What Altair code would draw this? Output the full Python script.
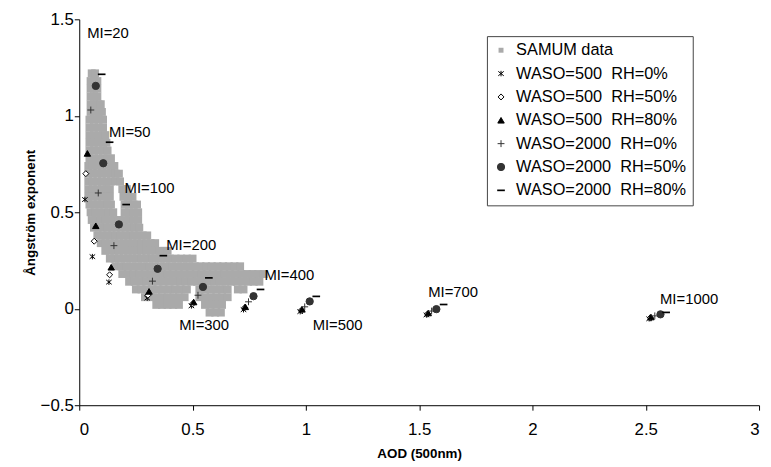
import altair as alt
import pandas as pd

# ---------------- data ----------------
# SAMUM observations (grey cloud), rows of equal Angstrom exponent with AOD values
samum_rows = [
    (1.22, [0.055, 0.07]),
    (1.18, [0.05, 0.065, 0.08]),
    (1.14, [0.05, 0.065, 0.08]),
    (1.10, [0.05, 0.065, 0.08]),
    (1.06, [0.05, 0.065, 0.085, 0.095]),
    (1.02, [0.05, 0.065, 0.085, 0.10]),
    (0.98, [0.045, 0.065, 0.085, 0.105]),
    (0.94, [0.045, 0.065, 0.085, 0.105]),
    (0.90, [0.045, 0.065, 0.085, 0.105, 0.115]),
    (0.86, [0.045, 0.065, 0.085, 0.105, 0.12]),
    (0.82, [0.045, 0.065, 0.085, 0.105, 0.125]),
    (0.78, [0.045, 0.065, 0.085, 0.105, 0.125, 0.14]),
    (0.74, [0.04, 0.06, 0.08, 0.10, 0.12, 0.14, 0.155]),
    (0.70, [0.04, 0.06, 0.08, 0.10, 0.12, 0.14, 0.16, 0.175]),
    (0.66, [0.04, 0.06, 0.08, 0.10, 0.12, 0.14, 0.16, 0.18]),
    (0.62, [0.04, 0.06, 0.08, 0.10, 0.12, 0.135, 0.19, 0.21]),
    (0.58, [0.04, 0.06, 0.08, 0.10, 0.12, 0.135, 0.195, 0.215, 0.235]),
    (0.54, [0.045, 0.065, 0.085, 0.105, 0.125, 0.14, 0.20, 0.22, 0.24, 0.255]),
    (0.50, [0.05, 0.07, 0.09, 0.11, 0.13, 0.15, 0.20, 0.22, 0.24, 0.26]),
    (0.46, [0.055, 0.075, 0.095, 0.115, 0.135, 0.155, 0.175, 0.20, 0.22, 0.24, 0.26]),
    (0.42, [0.065, 0.085, 0.105, 0.125, 0.145, 0.165, 0.185, 0.205, 0.225, 0.245, 0.265]),
    (0.38, [0.08, 0.10, 0.12, 0.14, 0.16, 0.18, 0.20, 0.22, 0.24, 0.26, 0.28, 0.30]),
    (0.34, [0.095, 0.115, 0.135, 0.155, 0.175, 0.195, 0.215, 0.235, 0.255, 0.275, 0.295,
            0.315, 0.335]),
    (0.30, [0.115, 0.135, 0.155, 0.175, 0.195, 0.215, 0.235, 0.255, 0.275, 0.295, 0.315,
            0.335, 0.355, 0.375, 0.39]),
    (0.26, [0.135, 0.155, 0.175, 0.20, 0.225, 0.25, 0.275, 0.30, 0.325, 0.35, 0.375, 0.40,
            0.425, 0.45, 0.475, 0.50]),
    (0.22, [0.16, 0.185, 0.21, 0.235, 0.26, 0.285, 0.31, 0.335, 0.36, 0.385, 0.41, 0.435,
            0.46, 0.485, 0.51, 0.535, 0.56, 0.585, 0.61, 0.635, 0.66, 0.685, 0.71]),
    (0.18, [0.19, 0.215, 0.24, 0.265, 0.29, 0.315, 0.34, 0.365, 0.39, 0.415, 0.44, 0.465,
            0.49, 0.515, 0.54, 0.565, 0.59, 0.615, 0.64, 0.665, 0.69, 0.715, 0.74, 0.765,
            0.79, 0.815]),
    (0.14, [0.22, 0.245, 0.27, 0.295, 0.32, 0.345, 0.37, 0.395, 0.42, 0.445, 0.47, 0.495,
            0.52, 0.545, 0.57, 0.595, 0.62, 0.645, 0.67, 0.695, 0.72, 0.745, 0.77, 0.795]),
    (0.10, [0.25, 0.275, 0.30, 0.325, 0.35, 0.375, 0.40, 0.425, 0.45, 0.475, 0.53, 0.555,
            0.58, 0.605, 0.63, 0.655, 0.70, 0.725]),
    (0.06, [0.29, 0.315, 0.34, 0.365, 0.39, 0.415, 0.44, 0.465, 0.53, 0.555, 0.58, 0.605,
            0.63, 0.655]),
    (0.02, [0.34, 0.365, 0.39, 0.415, 0.44, 0.555, 0.58, 0.605, 0.63]),
    (-0.02, [0.575, 0.60, 0.625]),
]

NB = "\u00a0"
series_names = [
    "SAMUM data",
    "WASO=500" + NB + " RH=0%",
    "WASO=500" + NB + " RH=50%",
    "WASO=500" + NB + " RH=80%",
    "WASO=2000" + NB + " RH=0%",
    "WASO=2000" + NB + " RH=50%",
    "WASO=2000" + NB + " RH=80%",
]

mi_values = [20, 50, 100, 200, 300, 400, 500, 700, 1000]

w500_rh0_aod = [0.025, 0.058, 0.131, 0.300, 0.495, 0.725, 0.975, 1.532, 2.515]
w500_rh0_ang = [0.566, 0.270, 0.138, 0.055, 0.015, -0.005, -0.015, -0.032, -0.052]
w500_rh50_aod = [0.029, 0.066, 0.134, 0.303, 0.500, 0.730, 0.980, 1.537, 2.520]
w500_rh50_ang = [0.700, 0.350, 0.176, 0.070, 0.025, 0.005, -0.008, -0.027, -0.047]
w500_rh80_aod = [0.036, 0.073, 0.141, 0.308, 0.505, 0.733, 0.983, 1.540, 2.523]
w500_rh80_ang = [0.805, 0.430, 0.215, 0.090, 0.035, 0.010, -0.003, -0.022, -0.043]
w2000_rh0_aod = [0.051, 0.084, 0.153, 0.323, 0.524, 0.747, 0.995, 1.555, 2.540]
w2000_rh0_ang = [1.030, 0.600, 0.327, 0.143, 0.070, 0.036, 0.010, -0.012, -0.037]
w2000_rh50_aod = [0.073, 0.106, 0.175, 0.346, 0.546, 0.769, 1.017, 1.576, 2.565]
w2000_rh50_ang = [1.155, 0.754, 0.437, 0.207, 0.113, 0.065, 0.038, -0.002, -0.029]
w2000_rh80_aod = [0.099, 0.134, 0.207, 0.371, 0.572, 0.800, 1.046, 1.608, 2.590]
w2000_rh80_ang = [1.215, 0.863, 0.540, 0.275, 0.160, 0.100, 0.064, 0.022, -0.019]

label_text = ["MI=20", "MI=50", "MI=100", "MI=200", "MI=300", "MI=400", "MI=500",
              "MI=700", "MI=1000"]
label_aod = [0.035, 0.131, 0.200, 0.384, 0.441, 0.817, 1.030, 1.540, 2.563]
label_ang = [1.43, 0.918, 0.626, 0.328, -0.087, 0.174, -0.087, 0.087, 0.050]

# ---------------- tables ----------------
samum = pd.DataFrame(
    [{"aod": a, "ang": y} for y, xs in samum_rows for a in xs]
)

model_sets = [
    (series_names[1], w500_rh0_aod, w500_rh0_ang),
    (series_names[2], w500_rh50_aod, w500_rh50_ang),
    (series_names[3], w500_rh80_aod, w500_rh80_ang),
    (series_names[4], w2000_rh0_aod, w2000_rh0_ang),
    (series_names[5], w2000_rh50_aod, w2000_rh50_ang),
    (series_names[6], w2000_rh80_aod, w2000_rh80_ang),
]
model = pd.DataFrame(
    [{"series": n, "aod": a, "ang": y, "mi": m}
     for n, xs, ys in model_sets for a, y, m in zip(xs, ys, mi_values)]
)
labels = pd.DataFrame({"text": label_text, "aod": label_aod, "ang": label_ang})

# ---------------- styles ----------------
shape_range = [
    "square",
    "M-1,-0.8L1,0.8M-1,0.8L1,-0.8M0,-1L0,1",
    "diamond",
    "triangle-up",
    "M-1,0L1,0M0,-1L0,1",
    "circle",
    "M-1,-0.22L1,-0.22L1,0.22L-1,0.22Z",
]
fill_range = ["#aaaaaa", "transparent", "white", "black", "transparent", "#333333", "black"]
stroke_range = ["transparent", "black", "black", "black", "#333333", "#333333", "transparent"]
size_range = [25, 60, 40, 60, 100, 64, 100]

FONT = "Liberation Sans"

x_enc = alt.X("aod:Q", scale=alt.Scale(domain=[0, 3], nice=False, zero=False),
              axis=alt.Axis(tickCount=7, format="~g", title="AOD (500nm)",
                            labelPadding=12, titlePadding=9,
                            labelFontSize=17, titleFontSize=13.5, labelFont=FONT,
                            titleFont=FONT, labelColor="black", titleColor="black",
                            domainColor="black", tickColor="black", tickSize=5))
y_enc = alt.Y("ang:Q", scale=alt.Scale(domain=[-0.5, 1.5], nice=False, zero=False),
              axis=alt.Axis(tickCount=5, format="~g", title="Ångström exponent",
                            labelPadding=1, titlePadding=3,
                            labelFontSize=17, titleFontSize=13.5, labelFont=FONT,
                            titleFont=FONT, labelColor="black", titleColor="black",
                            domainColor="black", tickColor="black", tickSize=5))

cloud = alt.Chart(samum).mark_point(
    shape="square", size=64, filled=True, fill="#aaaaaa", strokeWidth=0, opacity=1
)

points = alt.Chart(model).mark_point(opacity=1, strokeWidth=1).encode(
    shape=alt.Shape("series:N", scale=alt.Scale(domain=series_names, range=shape_range),
                    title=None),
    fill=alt.Fill("series:N", scale=alt.Scale(domain=series_names, range=fill_range),
                  title=None),
    stroke=alt.Stroke("series:N", scale=alt.Scale(domain=series_names, range=stroke_range),
                      title=None),
    size=alt.Size("series:N", scale=alt.Scale(domain=series_names, range=size_range),
                  title=None),
)

text = alt.Chart(labels).mark_text(
    align="left", baseline="middle", font=FONT, fontSize=15, color="black"
).encode(text="text:N")

chart = alt.layer(cloud, points, text).encode(x=x_enc, y=y_enc).properties(
    width=687,
    height=390,
    autosize=alt.AutoSizeParams(type="none"),
    padding={"left": 72, "top": 9, "right": 4, "bottom": 60},
    background="white",
).configure_view(stroke=None).configure_axis(
    grid=False
).configure_legend(
    orient="none",
    legendX=412,
    legendY=17,
    strokeColor="#444444",
    fillColor="white",
    padding=6,
    labelFont=FONT,
    labelFontSize=16.5,
    labelColor="black",
    labelLimit=300,
    labelOffset=7,
    rowPadding=6.6,
    symbolStrokeWidth=1,
    symbolOpacity=1,
)

chart.save("out.html", embed_options={"renderer": "svg", "actions": False})
